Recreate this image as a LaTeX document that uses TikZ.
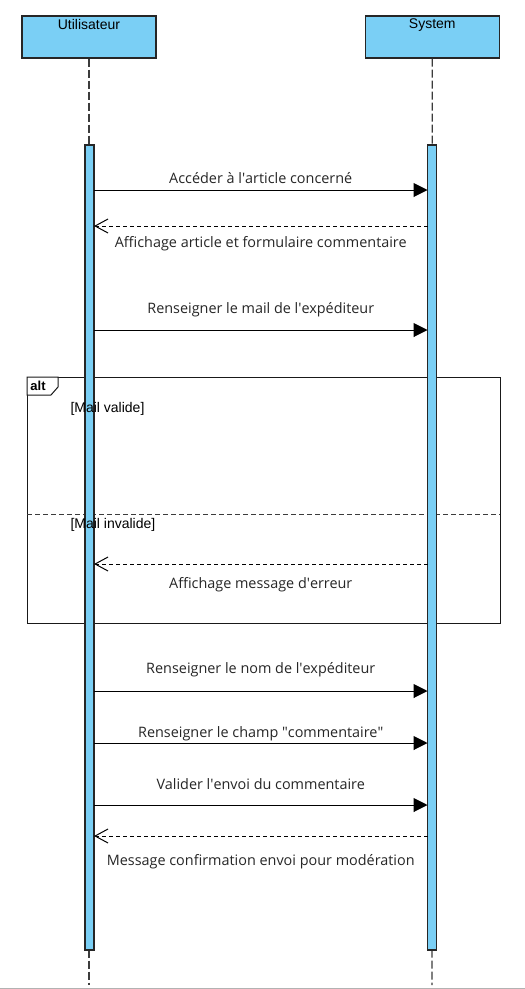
\documentclass[tikz,border=0pt]{standalone}
\usepackage{fontspec}
\setmainfont{Open Sans}
\newfontfamily\hdfont{Liberation Sans}
\usetikzlibrary{arrows.meta,positioning}
\definecolor{lifeblue}{RGB}{122,207,245}
\definecolor{linegray}{RGB}{60,60,60}
\begin{document}
\begin{tikzpicture}[x=1pt,y=-1pt,line width=1pt]
    \tikzstyle{actor}=[draw=black!85,fill=lifeblue,line width=1.3pt,minimum width=134pt,minimum height=42pt,
        inner sep=0pt,font=\hdfont\fontsize{14}{16}\selectfont]
    \tikzstyle{bar}=[draw=black!85,fill=lifeblue,line width=1.2pt,minimum width=9pt,minimum height=805pt,inner sep=0pt]
    \tikzstyle{lifeline}=[linegray,line width=1.3pt,dash pattern=on 8pt off 3pt]
    \tikzstyle{call}=[-{Triangle[length=14pt,width=14pt]}]
    \tikzstyle{reply}=[-{Straight Barb[length=13pt,width=14pt]},dash pattern=on 4pt off 3pt]
    \tikzstyle{lbl}=[font=\fontsize{14.4}{16}\selectfont,text=black!85,inner sep=0pt]
    \tikzstyle{guard}=[font=\hdfont\fontsize{14}{16}\selectfont,inner sep=0pt,anchor=west]

    \useasboundingbox (0,0) rectangle (525,989);
    \draw[black!30] (0,988.5) -- (525,988.5);

    \node[actor] (user) at (89,37) {};
    \node[actor] (sys) [right=208pt of user] {};
    \node[anchor=north,font=\hdfont\fontsize{14}{16}\selectfont] at (user.north) {Utilisateur};
    \node[anchor=north,font=\hdfont\fontsize{14}{16}\selectfont] at (sys.north) {System};

    \coordinate (uend) at (89,985);
    \coordinate (send) at (432,985);
    \draw[lifeline] (user.south) -- (uend);
    \draw[lifeline] (sys.south) -- (send);

    % alt fragment
    \draw[black!90] (27,377) rectangle (500,623);
    \draw[black!90,fill=white] (27,377) -- (58,377) -- (58,387) -- (51,395) -- (27,395) -- cycle;
    \node[font=\hdfont\bfseries\fontsize{13}{15}\selectfont,anchor=west,inner sep=0pt] (alt) at (30,386) {alt};
    \draw[linegray,dash pattern=on 5pt off 3pt] (27,514) -- (500,514);

    \node[bar] (act1) at (89.5,547.5) {};
    \node[bar] (act2) at (432,547.5) {};

    \node[guard] (g1) at (70,409) {[Mail valide]};
    \node[guard] (g2) at (70,525) {[Mail invalide]};

    \foreach \n/\y in {1/190,2/226,3/330,4/564,5/691,6/743,7/805,8/836}{
        \coordinate (u\n) at (94,\y);
        \coordinate (s\n) at (427.5,\y);
    }

    \draw[call] (u1) -- node[lbl,yshift=12pt] {Accéder à l\textquotesingle article concerné} (s1);
    \draw[reply] (s2) -- node[lbl,yshift=-18pt] {Affichage article et formulaire commentaire} (u2);
    \draw[call] (u3) -- node[lbl,yshift=20pt] {Renseigner le mail de l\textquotesingle expéditeur} (s3);
    \draw[reply] (s4) -- node[lbl,yshift=-21pt] {Affichage message d\textquotesingle erreur} (u4);
    \draw[call] (u5) -- node[lbl,yshift=21pt] {Renseigner le nom de l\textquotesingle expéditeur} (s5);
    \draw[call] (u6) -- node[lbl,yshift=9pt] {Renseigner le champ \textquotedbl commentaire\textquotedbl} (s6);
    \draw[call] (u7) -- node[lbl,yshift=21pt] {Valider l\textquotesingle envoi du commentaire} (s7);
    \draw[reply] (s8) -- node[lbl,yshift=-26pt] {Message confirmation envoi pour modération} (u8);
\end{tikzpicture}
\end{document}
